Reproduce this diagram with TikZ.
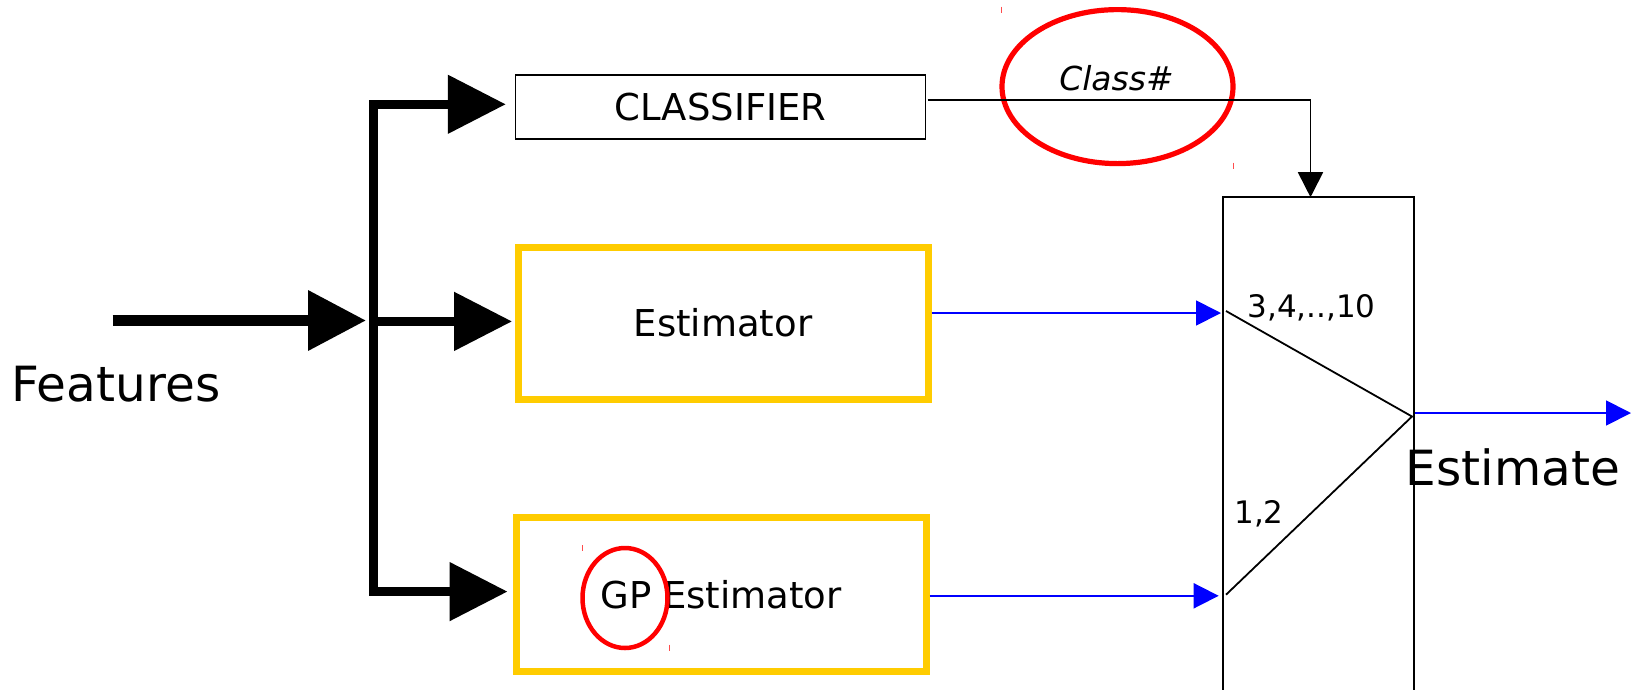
\documentclass[tikz,border=0pt]{standalone}
\usepackage{fontspec}
\setmainfont{DejaVu Sans}
\usetikzlibrary{arrows.meta,shapes.geometric,calc}
\definecolor{boxyellow}{HTML}{FFCC00}
\definecolor{wireblue}{HTML}{0000FF}
\definecolor{ringred}{HTML}{FF0000}
\begin{document}
\begin{tikzpicture}[x=1pt,y=-1pt,
  fatarrow/.style={line width=8.5pt,-{Triangle[length=58pt,width=57pt]}},
  infeed/.style={line width=10.4pt,-{Triangle[length=58pt,width=58pt]}},
  thinbox/.style={draw=black,line width=1.5pt,inner sep=0pt},
  goldbox/.style={draw=boxyellow,line width=7pt,inner sep=0pt,
    minimum width=410pt},
  bluewire/.style={draw=wireblue,line width=1.8pt,-{Triangle[length=25pt,width=25pt]}},
  blackwire/.style={draw=black,line width=1.8pt},
  ring/.style={draw=ringred,ellipse,inner sep=0pt},
  bigtext/.style={inner sep=0pt,font=\fontsize{48.5}{58}\selectfont},
  smalltext/.style={inner sep=0pt,font=\fontsize{31}{37}\selectfont},
  tick/.style={draw=ringred!70,line width=1pt}
]
\useasboundingbox (0,0) rectangle (1636,689);

% blocks
\node[thinbox,minimum width=410pt,minimum height=64pt,
  font=\fontsize{37}{44}\selectfont] (clf) at (720.5,107) {CLASSIFIER};
\node[goldbox,minimum height=152pt,font=\fontsize{37}{44}\selectfont]
  (est) at (723,323) {Estimator};
\node[goldbox,minimum height=154pt,font=\fontsize{37}{44}\selectfont]
  (gp) at (721,594.2) {GP Estimator};
\node[thinbox,minimum width=191pt,minimum height=500pt] (sel) at (1318.5,447.2) {};

% rings
\node[ring,line width=4.5pt,minimum width=85pt,minimum height=100pt] (gpring) at (625,598) {};
\node[ring,line width=5.2pt,minimum width=231pt,minimum height=154pt] (clsring) at (1117.5,86.6) {};

% labels
\node[bigtext] (feat) at (116,384) {Features};
\node[bigtext] (estim) at (1513,467.5) {Estimate};
\node[inner sep=0pt,font=\fontsize{33}{40}\selectfont\itshape] (cls) at (1116.5,78) {Class\#};
\node[smalltext] (lblhi) at (1311.5,307.8) {3,4,..,10};
\node[smalltext] (lbllo) at (1259,514) {1,2};

% fan-out of the feature vector
\coordinate (b1) at (373.5,104.3);
\coordinate (b2) at (373.5,321.4);
\coordinate (b3) at (373.5,591.6);
\coordinate (fin) at (112.7,320.5);
\draw[line width=8.5pt] (373.5,100) -- (373.5,596);
\draw[infeed,shorten >=7.5pt] (fin) -- (fin -| b2);
\draw[fatarrow,shorten >=9pt] (b1) -- (b1 -| clf.west);
\draw[fatarrow,shorten >=2.5pt] (b2) -- (b2 -| est.west);
\draw[fatarrow,shorten >=5pt] (b3) -- (b3 -| gp.west);

% class decision into the selector
\coordinate (cout) at (927.6,100.2);
\coordinate (ctop) at (1310.5,197.2);
\draw[blackwire,-{Triangle[length=25pt,width=25pt]}] (cout) -| (ctop);

% estimates into the selector
\coordinate (in1) at (1221,313);
\coordinate (in2) at (1218.7,595.8);
\draw[bluewire] (est.east |- in1) -- (in1);
\draw[bluewire] (gp.east |- in2) -- (in2);

% switch inside the selector
\coordinate (sw1) at (1226,311);
\coordinate (sw2) at (1226,594.7);
\coordinate (mix) at (1412,416.5);
\draw[blackwire] (sw1) -- (mix) -- (sw2);

% output
\coordinate (out) at (1631,413);
\draw[bluewire] (sel.east |- out) -- (out);

% small handle marks
\draw[tick] (1001.6,6.5) -- (1001.6,12.5);
\draw[tick] (1233.3,162.5) -- (1233.3,168.5);
\draw[tick] (582.7,545) -- (582.7,551);
\draw[tick] (669,644.5) -- (669,650.5);
\end{tikzpicture}
\end{document}
